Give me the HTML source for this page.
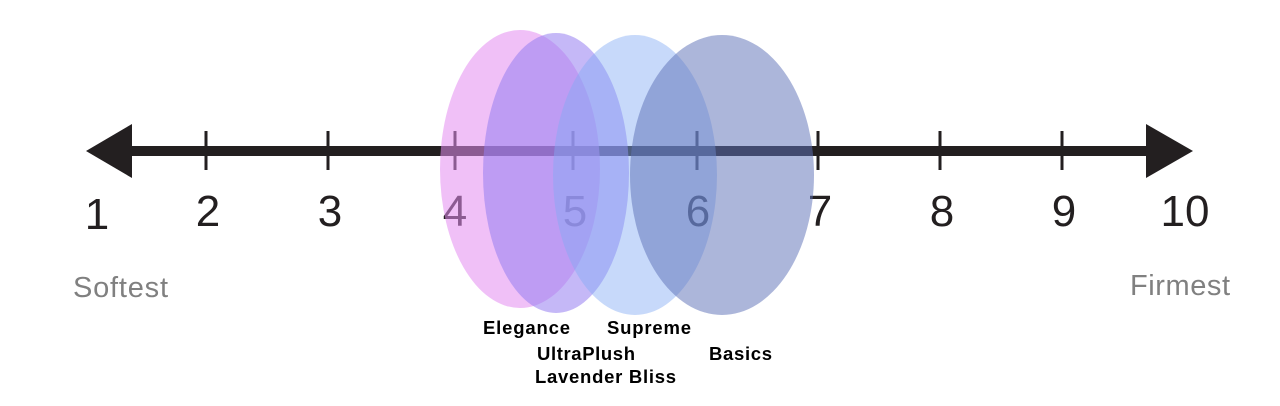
<!DOCTYPE html>
<html><head><style>
html,body{margin:0;padding:0;background:#fff;}
</style></head><body>
<svg width="1280" height="401" viewBox="0 0 1280 401" xmlns="http://www.w3.org/2000/svg">
<rect width="1280" height="401" fill="#fff"/>
<line x1="125" y1="151" x2="1152" y2="151" stroke="#231f20" stroke-width="10"/>
<polygon points="86,151 132,124 132,178" fill="#231f20"/>
<polygon points="1193,151 1146,124 1146,178" fill="#231f20"/>
<g stroke="#231f20" stroke-width="3">
<line x1="206" y1="131" x2="206" y2="170"/><line x1="328" y1="131" x2="328" y2="170"/>
<line x1="455" y1="131" x2="455" y2="170"/><line x1="573" y1="131" x2="573" y2="170"/>
<line x1="697" y1="131" x2="697" y2="170"/><line x1="818" y1="131" x2="818" y2="170"/>
<line x1="940" y1="131" x2="940" y2="170"/><line x1="1062" y1="131" x2="1062" y2="170"/>
</g>
<g font-family="Liberation Sans, sans-serif" font-size="44" fill="#231f20" text-anchor="middle">
<text x="97" y="229">1</text><text x="208" y="226">2</text><text x="330" y="226">3</text>
<text x="455" y="226">4</text><text x="575" y="226">5</text><text x="698" y="226">6</text>
<text x="820" y="226">7</text><text x="942" y="226">8</text><text x="1064" y="226">9</text>
<text x="1185" y="226">10</text>
</g>
<g font-family="Liberation Sans, sans-serif" font-size="29" fill="#808080">
<text x="73" y="297" textLength="95">Softest</text><text x="1130" y="295" textLength="100">Firmest</text>
</g>
<ellipse cx="520" cy="169" rx="80" ry="139" fill="rgba(228,140,240,0.55)"/>
<ellipse cx="556" cy="173" rx="73" ry="140" fill="rgba(150,125,240,0.55)"/>
<ellipse cx="635" cy="175" rx="82" ry="140" fill="rgba(130,170,245,0.45)"/>
<ellipse cx="722" cy="175" rx="92" ry="140" fill="rgba(95,115,185,0.52)"/>
<g font-family="Liberation Sans, sans-serif" font-size="18.5" font-weight="bold" fill="#000">
<text x="483" y="334" textLength="87">Elegance</text><text x="607" y="334" textLength="84">Supreme</text>
<text x="537" y="360" textLength="98">UltraPlush</text><text x="709" y="360" textLength="63">Basics</text>
<text x="535" y="383" textLength="141">Lavender Bliss</text>
</g>
</svg>
</body></html>
